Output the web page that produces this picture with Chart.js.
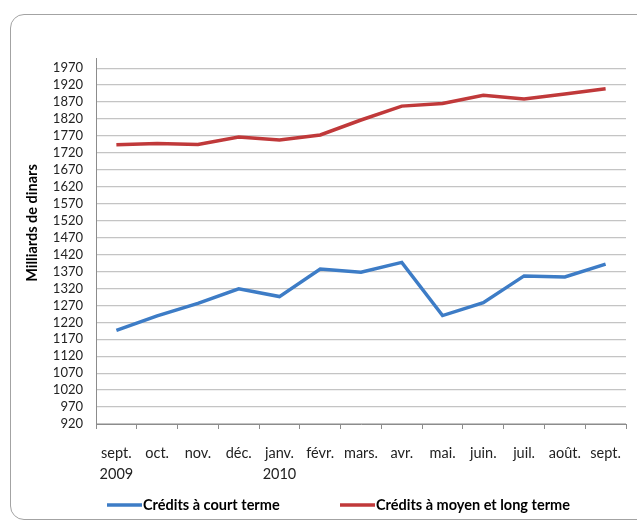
<!DOCTYPE html>
<html>
<head>
<meta charset="utf-8">
<script src="https://cdn.jsdelivr.net/npm/chart.js@4.4.1/dist/chart.umd.min.js"></script>
<style>
  html, body { margin: 0; padding: 0; background: #fff; }
  #cadre {
    position: absolute; left: 10px; top: 14px; width: 660px; height: 506px;
    border: 1.5px solid #a3a3a3; border-radius: 14px; box-sizing: border-box;
  }
  #wrap { position: absolute; left: 0; top: 0; width: 637px; height: 522px; }
</style>
</head>
<body>
<div id="cadre"></div>
<div id="wrap"><canvas id="grafica" width="637" height="522"></canvas></div>
<script>
// données
const mois = [["sept.", "2009"], "oct.", "nov.", "déc.", ["janv.", "2010"], "févr.", "mars.", "avr.", "mai.", "juin.", "juil.", "août.", "sept."];
const courtTerme = [1196, 1239, 1276, 1319, 1296, 1377, 1368, 1397, 1240, 1278, 1357, 1354, 1392];
const moyenLongTerme = [1744, 1748, 1745, 1767, 1758, 1773, 1817, 1858, 1866, 1890, 1879, 1894, 1909];
const yTicks = [920, 970, 1020, 1070, 1120, 1170, 1220, 1270, 1320, 1370, 1420, 1470, 1520, 1570, 1620, 1670, 1720, 1770, 1820, 1870, 1920, 1970];
const titreY = "Milliards de dinars";

const bleu = "#3d7cc6";
const rouge = "#c0393a";
const police = "Lato, 'Liberation Sans', sans-serif";

let graph = document.getElementById("grafica");

// légende et titre d'axe dessinés à la main, placés comme dans Excel
const legendeExcel = {
  id: 'legendeExcel',
  afterDraw(chart) {
    const ctx = chart.ctx;
    const y = 505;
    const starts = [107, 340];
    ctx.save();
    ctx.font = "bold 14.5px " + police;
    ctx.textBaseline = 'middle';
    chart.data.datasets.forEach((ds, i) => {
      const x = starts[i];
      ctx.strokeStyle = ds.borderColor;
      ctx.lineWidth = 3.5;
      ctx.beginPath();
      ctx.moveTo(x, y);
      ctx.lineTo(x + 35, y);
      ctx.stroke();
      ctx.fillStyle = '#000';
      ctx.fillText(ds.label, x + 36, y);
    });

    // titre vertical de l'axe y
    const area = chart.chartArea;
    ctx.translate(32, (area.top + area.bottom) / 2 - 18);
    ctx.rotate(-Math.PI / 2);
    ctx.textAlign = 'center';
    ctx.fillText(titreY, 0, 0);
    ctx.restore();
  }
};

const data = {
  labels: mois,
  datasets: [{
    label: "Crédits à court terme",
    data: courtTerme,
    borderColor: bleu,
    backgroundColor: bleu,
    borderWidth: 3.5,
    pointRadius: 0,
    tension: 0
  }, {
    label: "Crédits à moyen et long terme",
    data: moyenLongTerme,
    borderColor: rouge,
    backgroundColor: rouge,
    borderWidth: 3.5,
    pointRadius: 0,
    tension: 0
  }]
};

const config = {
  type: 'line',
  data: data,
  plugins: [legendeExcel],
  options: {
    responsive: false,
    animation: false,
    layout: { padding: { left: 40, right: 11, top: 58, bottom: 36 } },
    plugins: {
      tooltip: { enabled: false },
      legend: { display: false }
    },
    scales: {
      x: {
        offset: true,
        grid: { drawOnChartArea: false, offset: true, tickLength: 5, color: '#8c8c8c' },
        border: { color: '#8c8c8c' },
        ticks: { color: '#222', padding: 13, maxRotation: 0, autoSkip: false, font: { family: police, size: 14.5, lineHeight: 1.5 } },
        afterFit: function (scale) { scale.height = 62; }
      },
      y: {
        min: 920,
        max: 2000,
        afterBuildTicks: function (scale) { scale.ticks = yTicks.map(v => ({ value: v })); },
        grid: { color: '#c4c4c4', lineWidth: 1.3, drawTicks: false },
        border: { color: '#8c8c8c' },
        ticks: {
          color: '#222', padding: 13, autoSkip: false,
          font: { family: police, size: 13 },
          callback: function (value) { return String(value); }
        },
        afterFit: function (scale) { scale.width = 56; }
      }
    }
  }
};

let grafico = new Chart(graph, config);
</script>
</body>
</html>
